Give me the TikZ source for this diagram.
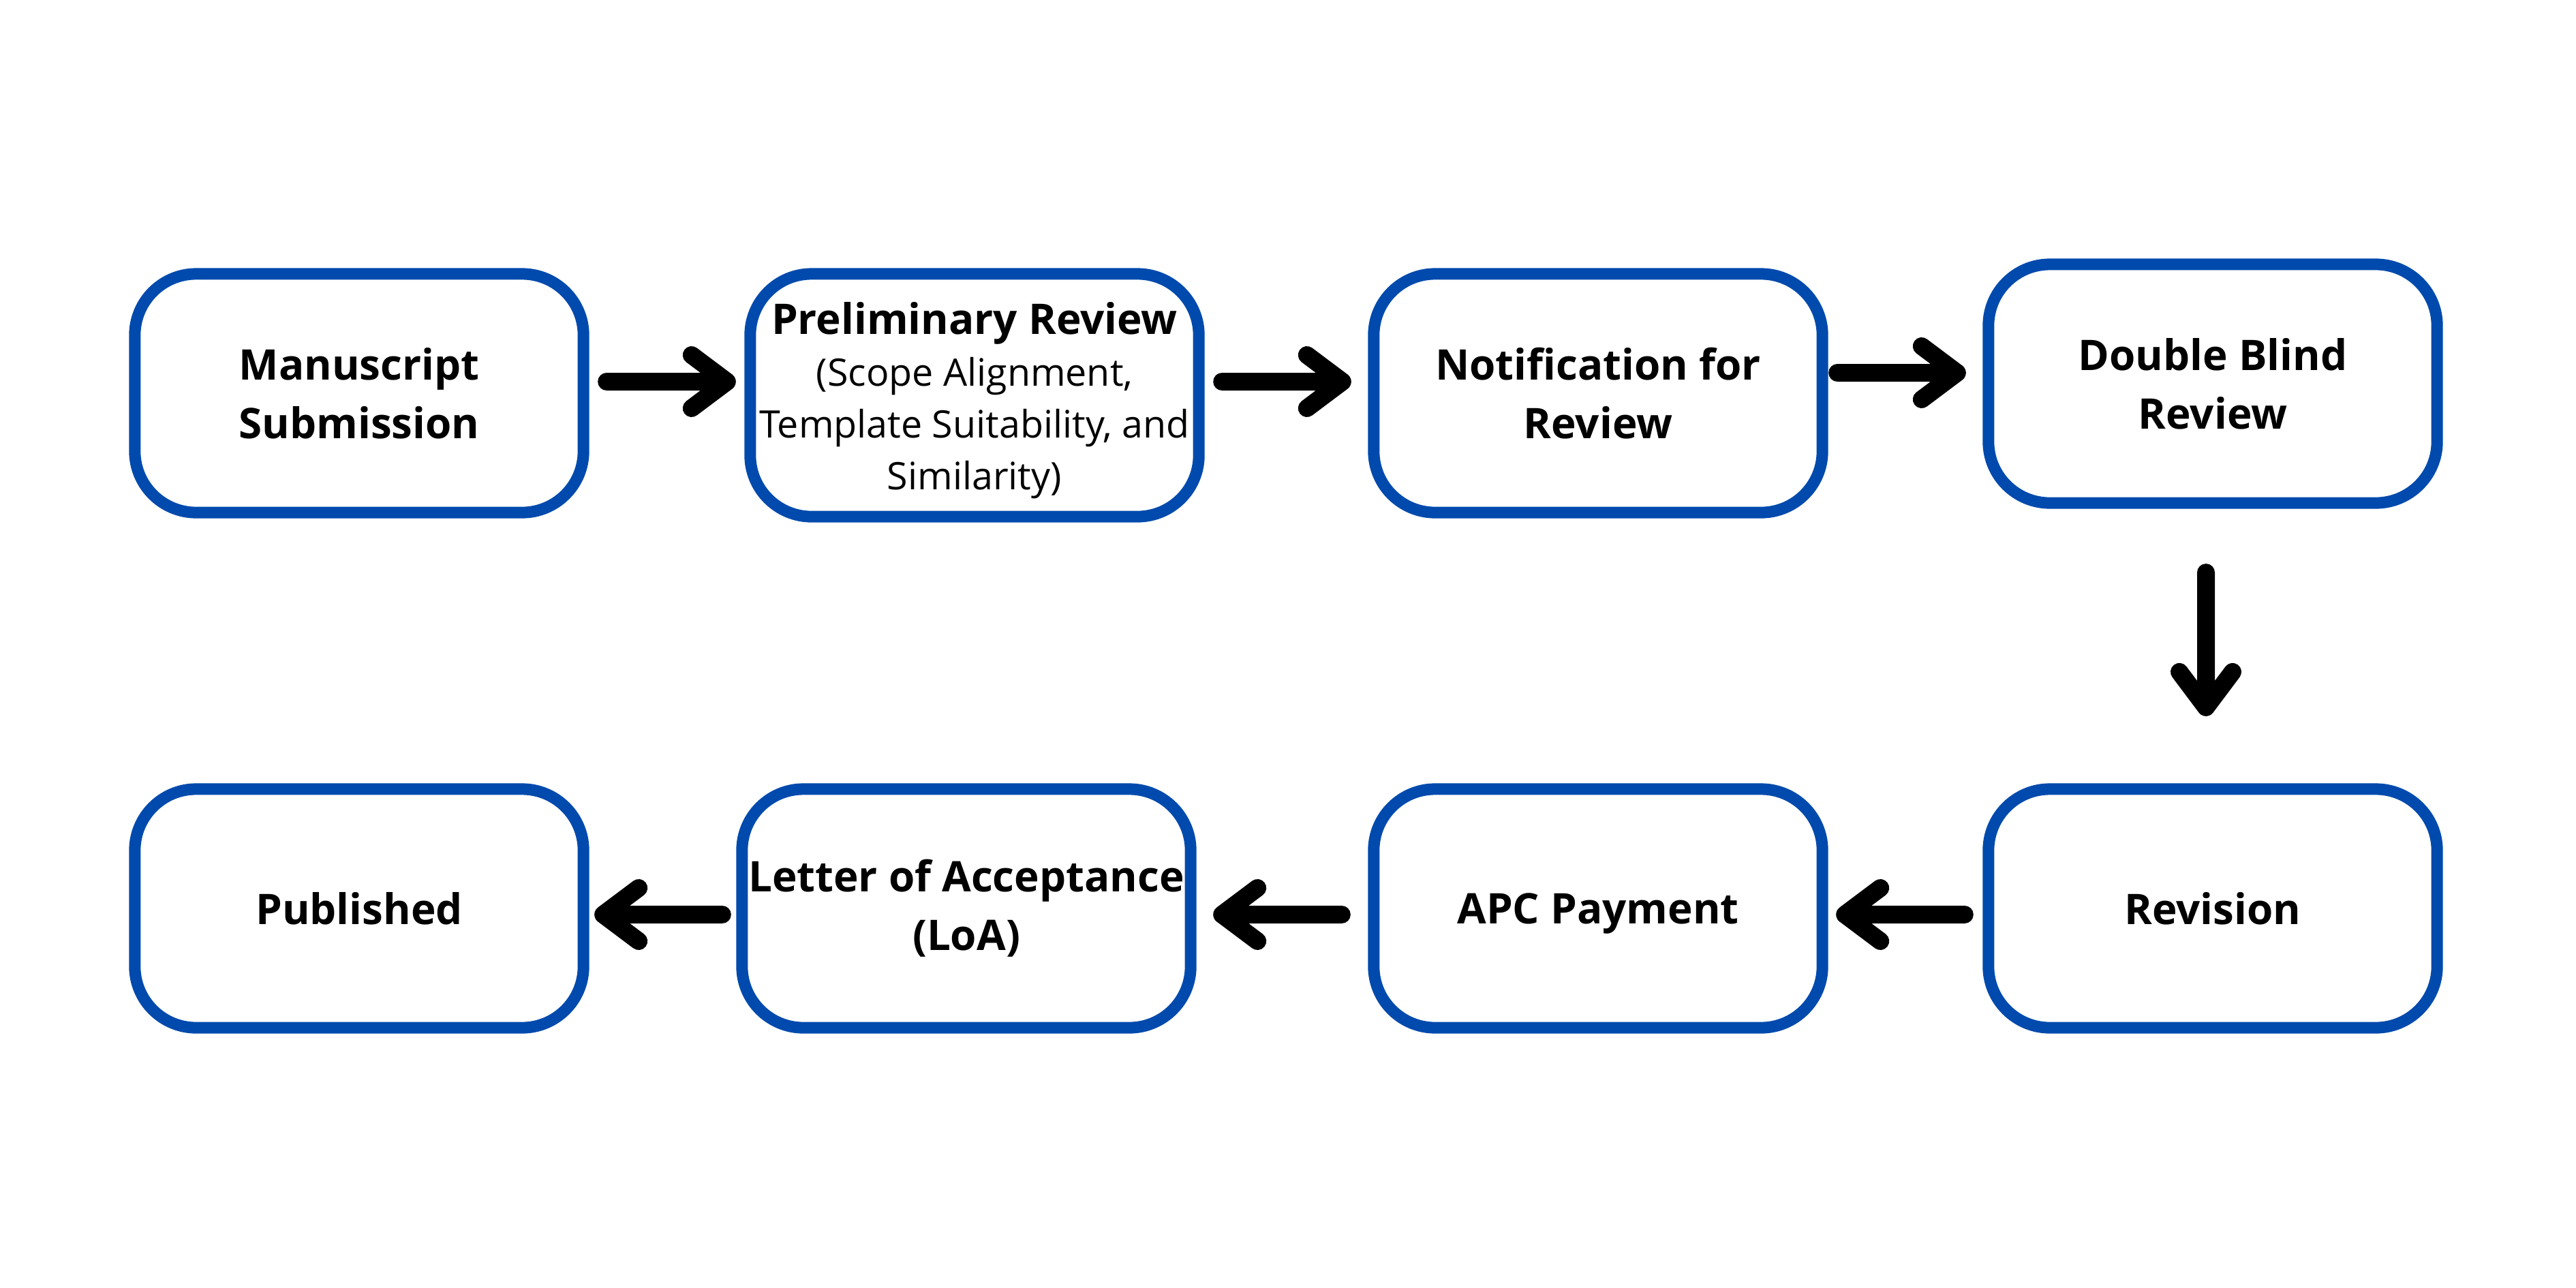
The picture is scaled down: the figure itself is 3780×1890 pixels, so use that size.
\documentclass[tikz,border=0pt]{standalone}
\usepackage{fontspec}
\setmainfont{Open Sans}
\usetikzlibrary{calc}
\definecolor{boxblue}{HTML}{004AAD}
\newcommand\subline{\fontsize{15.8pt}{21.6pt}\selectfont\mdseries}
\begin{document}
\begin{tikzpicture}[x=0.01cm,y=-0.01cm,
  stage/.style={draw=boxblue, line width=0.17cm, rounded corners=0.9cm, fill=white,
    minimum width=6.58cm, minimum height=3.5cm, align=center, inner sep=0pt, outer sep=0pt,
    font=\fontsize{17.6pt}{24.5pt}\selectfont\bfseries},
  conn/.style={line width=0.26cm, line cap=round, line join=round, draw=black}]
\useasboundingbox[fill=white] (0,0) rectangle (3780,1890);
% top row
\node[stage] (ms) at (527,577) {Manuscript\\Submission};
\node[stage, minimum height=3.56cm, font=\fontsize{17.6pt}{21.6pt}\selectfont\bfseries] (pr) at (1430,580)
  {\rule{0pt}{17.5pt}Preliminary Review\\\subline(Scope Alignment,\\\subline Template Suitability, and\\\subline Similarity)};
\node[stage] (nt) at (2345,577) {Notification for\\Review};
\node[stage] (db) at (3247,563) {Double Blind\\Review};
% bottom row
\node[stage] (pb) at (527,1333) {Published};
\node[stage] (lo) at (1418,1333) {Letter of Acceptance\\(LoA)};
\node[stage] (ap) at (2345,1333) {\raisebox{0pt}[\height][0pt]{APC Payment}};
\node[stage] (rv) at (3247,1333) {Revision};
% arrow rows
\coordinate (r1) at (0,560);
\coordinate (r3) at (0,547);
\coordinate (r4) at (0,1342);
\coordinate (cx) at (3237,0);
% connectors
\draw[conn] ($(ms.east |- r1)+(34,0)$) -- ($(pr.west |- r1)+(-34,0)$) coordinate (t1) -- ++(-52,-39) (t1) -- ++(-52,39);
\draw[conn] ($(pr.east |- r1)+(34,0)$) -- ($(nt.west |- r1)+(-46,0)$) coordinate (t2) -- ++(-52,-39) (t2) -- ++(-52,39);
\draw[conn] ($(nt.east |- r3)+(22,0)$) -- ($(db.west |- r3)+(-46,0)$) coordinate (t3) -- ++(-52,-39) (t3) -- ++(-52,39);
\draw[conn] ($(cx |- db.south)+(0,102)$) -- ($(cx |- rv.north)+(0,-120)$) coordinate (t4) -- ++(-39,-52) (t4) -- ++(39,-52);
\draw[conn] ($(rv.west |- r4)+(-35,0)$) -- ($(ap.east |- r4)+(33,0)$) coordinate (t5) -- ++(52,-39) (t5) -- ++(52,39);
\draw[conn] ($(ap.west |- r4)+(-47,0)$) -- ($(lo.east |- r4)+(46,0)$) coordinate (t6) -- ++(52,-39) (t6) -- ++(52,39);
\draw[conn] ($(lo.west |- r4)+(-29,0)$) -- ($(pb.east |- r4)+(29,0)$) coordinate (t7) -- ++(52,-39) (t7) -- ++(52,39);
\end{tikzpicture}
\end{document}
